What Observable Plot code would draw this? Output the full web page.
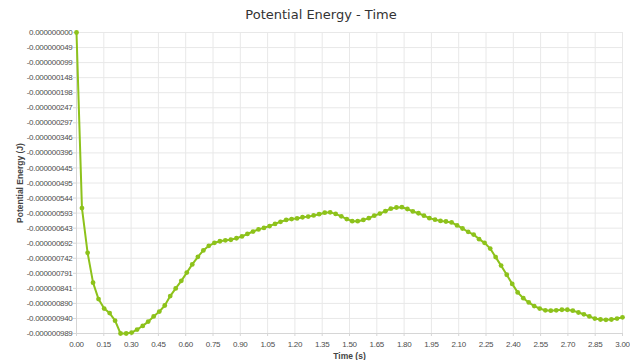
<!DOCTYPE html>
<html>
<head>
<meta charset="utf-8">
<script src="https://cdn.jsdelivr.net/npm/d3@7"></script>
<script src="https://cdn.jsdelivr.net/npm/@observablehq/plot@0.6"></script>
<style>
  html, body { margin: 0; padding: 0; background: #fff; }
  #wrap { width: 630px; height: 360px; position: relative; overflow: hidden; }
  #title { position: absolute; left: 0; top: 6px; width: 630px; height: 20px; text-align: center;
           font-family: "DejaVu Sans", Verdana, sans-serif; font-size: 13px; color: #333;
           padding-left: 12px; box-sizing: border-box; line-height: 18px; }
  #chart { position: absolute; left: 0; top: 24px; }
  #chart svg text { font-family: "Liberation Sans", Arial, sans-serif; }
  #chart svg g[aria-label="x-axis tick label"] text,
  #chart svg g[aria-label="y-axis tick label"] text { letter-spacing: -0.3px; }
  #chart svg g[aria-label="x-axis label"] text,
  #chart svg g[aria-label="y-axis label"] text { font-weight: bold; }
</style>
</head>
<body>
<div id="wrap">
  <div id="title">Potential Energy - Time</div>
  <div id="chart"></div>
</div>
<script>
const chartTitle = "Potential Energy - Time";
const xLabel = "Time (s)";
const yLabel = "Potential Energy (J)";

// time samples (s)
const time = [0.000,0.030,0.061,0.091,0.121,0.152,0.182,0.212,0.242,0.273,
  0.303,0.333,0.364,0.394,0.424,0.455,0.485,0.515,0.545,0.576,
  0.606,0.636,0.667,0.697,0.727,0.758,0.788,0.818,0.848,0.879,
  0.909,0.939,0.970,1.000,1.030,1.061,1.091,1.121,1.152,1.182,
  1.212,1.242,1.273,1.303,1.333,1.364,1.394,1.424,1.455,1.485,
  1.515,1.545,1.576,1.606,1.636,1.667,1.697,1.727,1.758,1.788,
  1.818,1.848,1.879,1.909,1.939,1.970,2.000,2.030,2.061,2.091,
  2.121,2.152,2.182,2.212,2.242,2.273,2.303,2.333,2.364,2.394,
  2.424,2.455,2.485,2.515,2.545,2.576,2.606,2.636,2.667,2.697,
  2.727,2.758,2.788,2.818,2.848,2.879,2.909,2.939,2.970,3.000];

// potential energy, in units of 1e-9 J
const energyNanoJ = [0,-577,-724,-822,-876,-907,-922,-947,-989,-989,
  -986,-976,-964,-950,-933,-917,-897,-866,-841,-816,
  -789,-762,-737,-716,-701,-691,-686,-683,-681,-676,
  -670,-662,-654,-647,-642,-636,-629,-622,-616,-613,
  -611,-607,-605,-601,-597,-592,-591,-596,-604,-613,
  -620,-620,-616,-610,-602,-595,-587,-579,-575,-574,
  -580,-588,-594,-602,-610,-615,-619,-621,-624,-634,
  -644,-655,-664,-679,-691,-710,-738,-766,-796,-826,
  -854,-873,-887,-899,-907,-913,-914,-913,-911,-911,
  -914,-920,-926,-933,-940,-943,-944,-943,-940,-936];

const yMinNanoJ = -989.05;
const yTickLabels = ["0.000000000","-0.000000049","-0.000000099","-0.000000148","-0.000000198",
  "-0.000000247","-0.000000297","-0.000000346","-0.000000396","-0.000000445","-0.000000495",
  "-0.000000544","-0.000000593","-0.000000643","-0.000000692","-0.000000742","-0.000000791",
  "-0.000000841","-0.000000890","-0.000000940","-0.000000989"];
const xTickLabels = ["0.00","0.15","0.30","0.45","0.60","0.75","0.90","1.05","1.20","1.35",
  "1.50","1.65","1.80","1.95","2.10","2.25","2.40","2.55","2.70","2.85","3.00"];

const data = time.map((t, i) => ({t, e: energyNanoJ[i]}));
const xTicks = xTickLabels.map(Number);
const yTicks = yTickLabels.map((_, i) => yMinNanoJ * i / (yTickLabels.length - 1));

const lineColor = "#8dc21b";
const gridColor = "#e8e8e8";

const plot = Plot.plot({
  width: 630,
  height: 336,
  marginLeft: 76,
  marginRight: 8,
  marginTop: 8,
  marginBottom: 27,
  x: {domain: [0, 3]},
  y: {domain: [yMinNanoJ, 0]},
  marks: [
    Plot.gridX(xTicks, {stroke: gridColor, strokeOpacity: 1}),
    Plot.gridY(yTicks, {stroke: gridColor, strokeOpacity: 1}),
    Plot.axisX(xTicks, {tickSize: 3, stroke: "#d6d6d6", tickPadding: 5, fontSize: 8, fill: "#4d4d4d",
      tickFormat: (d, i) => xTickLabels[i], label: xLabel, labelAnchor: "center", labelArrow: "none", labelOffset: 25}),
    Plot.axisY(yTicks, {tickSize: 3, stroke: "#d6d6d6", tickPadding: 1, fontSize: 8, fill: "#4d4d4d",
      tickFormat: (d, i) => yTickLabels[i], label: yLabel, labelAnchor: "center", labelArrow: "none", labelOffset: 60}),
    Plot.ruleY([yMinNanoJ], {stroke: "#d6d6d6"}),
    Plot.ruleX([0], {stroke: "#d6d6d6"}),
    Plot.line(data, {x: "t", y: "e", stroke: lineColor, strokeWidth: 2}),
    Plot.dot(data, {x: "t", y: "e", fill: lineColor, r: 2.4})
  ]
});
document.getElementById("chart").appendChild(plot);
// axis-label styling
plot.querySelectorAll('g[aria-label="x-axis label"] text, g[aria-label="y-axis label"] text').forEach(t => {
  t.setAttribute("font-size", "8.5");
  t.setAttribute("fill", "#444");
});
</script>
</body>
</html>
